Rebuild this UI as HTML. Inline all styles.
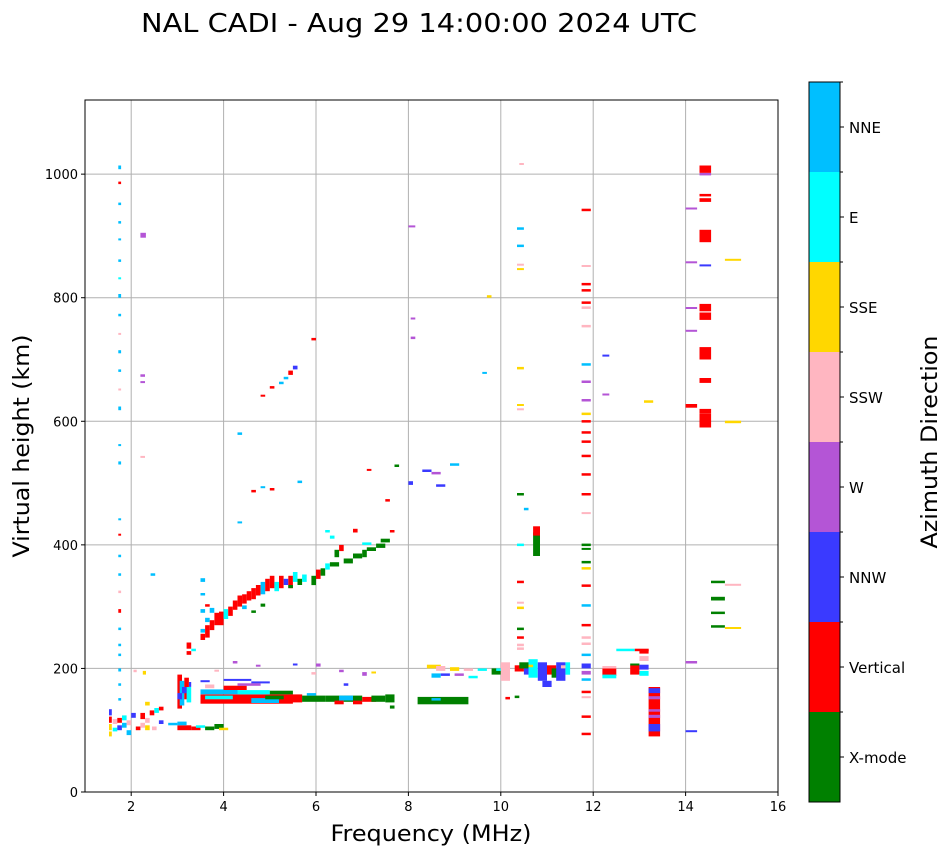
<!DOCTYPE html>
<html><head><meta charset="utf-8">
<style>
html,body{margin:0;padding:0;background:#fff;}
body{width:951px;height:856px;overflow:hidden;font-family:"DejaVu Sans","Liberation Sans",sans-serif;}
</style></head>
<body>
<svg id="chart" width="951" height="856" xmlns="http://www.w3.org/2000/svg" font-family="DejaVu Sans, Liberation Sans, sans-serif">
<text x="419" y="32" font-size="26" text-anchor="middle" textLength="556" lengthAdjust="spacingAndGlyphs">NAL CADI - Aug 29 14:00:00 2024 UTC</text>
<g id="grid"></g>
<g id="marks"></g>
<rect x="85" y="100" width="693" height="692" fill="none" stroke="#000" stroke-width="1"/>
<g id="axes"></g>
<text x="431" y="841" font-size="22" text-anchor="middle" textLength="201" lengthAdjust="spacingAndGlyphs">Frequency (MHz)</text>
<text transform="translate(29,446) rotate(-90)" font-size="22" text-anchor="middle" textLength="223" lengthAdjust="spacingAndGlyphs">Virtual height (km)</text>
<g id="cbar"></g>
<text transform="translate(937,442) rotate(-90)" font-size="22" text-anchor="middle" textLength="213" lengthAdjust="spacingAndGlyphs">Azimuth Direction</text>
</svg>
<script>
const directions = ["X-mode","Vertical","NNW","W","SSW","SSE","E","NNE"];
const dirColors = ["#008000","#ff0000","#3a3aff","#b455d6","#ffb6c1","#ffd700","#00ffff","#00bfff"];
const xTicks = [2,4,6,8,10,12,14,16];
const yTicks = [0,200,400,600,800,1000];
// echoes: [freqStart, freqEnd, heightLow, heightHigh, directionIndex]
const echoes = [
[1.72,1.78,1008,1014,7],[1.72,1.78,984,988,1],[1.72,1.78,950,954,7],[1.72,1.78,920,924,7],[1.72,1.78,893,896,7],[1.72,1.78,858,862,7],[1.72,1.78,830,833,6],[1.72,1.78,800,806,7],[1.72,1.78,770,774,7],[1.72,1.78,740,743,4],[1.72,1.78,710,715,7],[1.72,1.78,680,684,7],[1.72,1.78,650,653,4],[1.72,1.78,618,624,7],[1.72,1.78,560,563,7],[1.72,1.78,530,535,7],[1.72,1.78,440,443,7],[1.72,1.78,415,418,1],[1.72,1.78,380,384,7],[1.72,1.78,350,354,7],[1.72,1.78,322,326,4],[1.72,1.78,290,296,1],[1.72,1.78,262,266,7],[1.72,1.78,236,240,7],[1.72,1.78,220,224,7],[1.72,1.78,195,200,7],[1.72,1.78,172,176,7],[1.72,1.78,148,152,7],
[1.52,1.58,90,98,5],[1.52,1.58,100,110,5],[1.52,1.58,112,122,1],[1.52,1.58,124,134,2],[1.6,1.7,98,104,6],[1.6,1.7,110,118,4],[1.7,1.8,100,108,2],[1.7,1.8,112,120,1],[1.8,1.9,104,112,7],[1.8,1.9,116,124,6],[1.9,2.0,92,100,7],[1.9,2.0,108,116,4],[2.0,2.1,120,128,2],[2.05,2.12,194,198,4],[2.1,2.2,100,106,1],[2.2,2.3,104,112,4],[2.2,2.3,118,128,1],[2.3,2.4,100,108,5],[2.3,2.4,112,120,4],[2.3,2.4,140,146,5],[2.4,2.5,124,132,1],[2.45,2.55,100,106,4],[2.5,2.6,128,136,6],[2.6,2.7,132,138,1],[2.6,2.7,110,116,2],[2.25,2.32,190,196,5],
[2.2,2.32,897,905,3],[2.2,2.3,672,676,3],[2.2,2.3,662,665,3],[2.2,2.3,541,544,4],[2.42,2.52,350,354,7],
[3.0,3.1,135,190,1],[3.05,3.15,140,180,7],[3.15,3.25,150,185,1],[3.2,3.3,145,170,6],[3.1,3.2,160,170,2],[3.0,3.1,150,160,2],[3.25,3.3,170,178,2],[3.0,3.3,100,108,1],[3.0,3.2,108,114,7],[3.3,3.5,100,106,1],[3.4,3.6,104,108,6],[3.6,3.8,100,106,0],[3.8,4.0,102,110,0],[3.9,4.1,100,104,5],[2.8,3.0,108,112,7],
[3.5,5.5,143,158,1],[3.5,4.3,158,166,7],[3.6,4.2,150,156,6],[4.3,5.0,158,165,6],[4.0,4.5,165,172,1],[4.6,5.2,144,152,7],[4.0,4.6,180,183,2],[4.6,5.0,176,179,2],[4.3,4.8,172,176,3],[3.6,3.8,168,174,4],[5.0,5.5,158,164,0],[4.9,5.3,150,156,0],[5.4,5.7,145,158,1],[3.5,3.7,178,181,2],[3.8,3.9,195,198,4],[4.2,4.3,208,212,3],[4.7,4.8,203,206,3],[5.5,5.6,205,208,2],[6.0,6.1,203,208,3],[5.9,6.0,190,194,4],
[5.7,6.2,146,156,0],[5.8,6.0,156,160,7],[6.2,6.6,146,156,0],[6.4,6.6,142,148,1],[6.6,7.0,146,156,0],[6.5,6.8,148,156,7],[7.0,7.3,146,154,1],[7.2,7.5,146,156,0],[7.5,7.7,145,158,0],[6.8,7.0,142,148,1],[7.6,7.7,135,140,0],[6.5,6.6,194,198,3],[6.6,6.7,172,176,2],[7.0,7.1,188,194,3],[7.2,7.3,192,195,5],
[3.2,3.3,222,228,1],[3.2,3.3,232,242,1],[3.3,3.4,228,232,6],[3.5,3.6,246,256,1],[3.5,3.6,258,264,7],[3.6,3.7,250,270,1],[3.7,3.8,262,278,1],[3.6,3.7,275,282,7],[3.5,3.6,290,296,7],[3.5,3.6,318,322,7],[3.5,3.6,340,346,7],[3.6,3.7,300,304,1],[3.7,3.8,290,298,7],[3.8,3.9,270,290,1],[3.9,4.0,270,292,1],[4.0,4.1,280,296,6],[4.1,4.2,285,300,1],[4.2,4.3,295,310,1],[4.3,4.4,300,318,1],[4.4,4.5,305,320,1],[4.4,4.5,296,302,7],[4.5,4.6,310,325,1],[4.6,4.7,312,330,1],[4.7,4.8,318,335,1],[4.8,4.9,320,340,7],[4.9,5.0,325,345,1],[5.0,5.1,330,350,1],[5.1,5.2,325,340,6],[5.2,5.3,330,350,1],[5.3,5.4,335,345,2],[5.4,5.5,330,350,1],[5.5,5.6,340,356,6],[5.6,5.7,335,345,0],[5.7,5.8,340,352,6],[5.9,6.0,335,350,0],[6.0,6.1,345,360,1],[6.1,6.2,350,362,0],[6.2,6.3,360,370,6],[6.3,6.5,365,372,0],[6.4,6.5,380,392,0],[6.5,6.6,390,400,1],[6.6,6.8,370,378,0],[6.8,7.0,378,386,0],[7.0,7.1,380,392,0],[7.1,7.3,390,396,0],[7.3,7.5,395,402,0],[7.4,7.6,404,410,0],[7.6,7.7,420,424,1],[7.0,7.2,400,404,6],[6.2,6.3,420,424,6],[6.3,6.4,410,415,6],[5.4,5.5,330,335,0],[4.6,4.7,290,294,0],[4.8,4.9,300,305,0],[4.3,4.4,435,438,7],[4.3,4.4,578,582,7],[4.6,4.7,485,489,1],[4.8,4.9,492,495,7],[5.0,5.1,488,492,1],[5.6,5.7,500,504,7],[7.5,7.6,470,474,1],[7.7,7.8,526,530,0],[7.1,7.2,520,523,1],[6.8,6.9,420,426,1],
[4.8,4.9,640,643,1],[5.0,5.1,653,657,1],[5.2,5.3,660,664,7],[5.3,5.4,668,672,7],[5.4,5.5,675,682,1],[5.5,5.6,684,690,2],[5.9,6.0,731,735,1],
[8.0,8.1,497,503,2],[8.3,8.5,518,522,2],[8.5,8.7,514,518,3],[8.6,8.8,494,498,2],[8.9,9.1,528,532,7],[8.0,8.15,914,917,3],[8.05,8.15,765,768,3],[8.05,8.15,733,737,3],[9.7,9.8,800,804,5],[9.6,9.7,677,680,7],
[8.2,9.3,142,154,0],[8.5,8.7,148,152,7],[8.4,8.7,200,206,5],[8.6,8.8,196,204,4],[8.7,8.9,188,192,2],[8.9,9.1,196,202,5],[9.0,9.2,188,192,3],[9.2,9.4,196,200,4],[8.5,8.7,185,192,7],[9.5,9.7,196,200,6],[9.3,9.5,184,188,6],
[9.8,10.0,190,200,0],[9.9,10.1,196,200,6],[10.0,10.2,180,210,4],[10.3,10.5,195,205,1],[10.4,10.6,200,210,0],[10.5,10.7,190,200,2],[10.6,10.8,185,215,6],[10.8,11.0,180,210,2],[10.9,11.1,170,180,2],[11.0,11.2,190,205,1],[11.1,11.3,185,200,0],[11.2,11.4,180,210,2],[11.3,11.4,200,205,4],[11.4,11.5,190,210,6],[10.1,10.2,150,154,1],[10.3,10.4,152,156,0],[10.6,10.7,202,206,5],
[10.7,10.85,382,420,0],[10.7,10.85,415,430,1],[10.35,10.5,480,484,0],[10.35,10.5,398,402,6],[10.35,10.5,338,342,1],[10.35,10.5,305,308,4],[10.35,10.5,296,300,5],[10.35,10.5,262,266,0],[10.35,10.5,248,252,1],[10.35,10.5,230,234,4],[10.35,10.5,236,240,4],[10.35,10.5,625,628,5],[10.35,10.5,618,621,4],[10.35,10.5,684,688,5],[10.35,10.5,845,848,5],[10.35,10.5,852,855,4],[10.35,10.5,882,886,7],[10.35,10.5,910,914,7],[10.4,10.5,1015,1018,4],[10.5,10.6,456,460,7],
[11.75,11.95,940,944,1],[11.75,11.95,850,853,4],[11.75,11.95,820,824,1],[11.75,11.95,810,814,1],[11.75,11.95,790,794,1],[11.75,11.95,782,786,4],[11.75,11.95,752,756,4],[11.75,11.95,690,694,7],[11.75,11.95,662,666,3],[11.75,11.95,632,636,3],[11.75,11.95,610,614,5],[11.75,11.95,598,602,1],[11.75,11.95,580,584,1],[11.75,11.95,565,569,1],[11.75,11.95,542,546,1],[11.75,11.95,512,516,1],[11.75,11.95,480,484,1],[11.75,11.95,450,453,4],[11.75,11.95,398,402,0],[11.75,11.95,392,395,0],[11.75,11.95,370,374,0],[11.75,11.95,360,364,5],[11.75,11.95,332,336,1],[11.75,11.95,300,304,7],[11.75,11.95,268,272,1],[11.75,11.95,248,252,4],[11.75,11.95,238,242,4],[11.75,11.95,220,224,7],[11.75,11.95,200,208,2],[11.75,11.95,190,196,3],[11.75,11.95,180,184,7],[11.75,11.95,160,164,1],[11.75,11.95,152,155,4],[11.75,11.95,120,124,1],[11.75,11.95,92,96,1],[12.2,12.35,705,708,2],[12.2,12.35,642,645,3],
[12.2,12.5,188,200,1],[12.2,12.5,200,204,4],[12.2,12.5,184,190,6],[12.5,12.9,228,232,6],[12.9,13.2,228,232,1],[13.0,13.2,224,230,1],[13.0,13.2,212,220,4],[12.8,13.0,190,205,1],[12.8,13.0,205,208,0],[13.0,13.2,198,206,2],[13.0,13.2,188,196,6],[13.1,13.3,630,634,5],
[13.2,13.45,90,170,1],[13.2,13.45,160,168,2],[13.2,13.45,150,155,3],[13.2,13.45,120,125,3],[13.2,13.45,98,110,2],[13.2,13.45,130,134,3],
[14.0,14.25,943,946,3],[14.0,14.25,856,859,3],[14.0,14.25,782,785,3],[14.0,14.25,745,748,3],[14.0,14.25,622,628,1],[14.0,14.25,208,212,3],[14.0,14.25,98,100,2],
[14.3,14.55,1002,1014,1],[14.3,14.55,998,1002,3],[14.3,14.55,964,968,1],[14.3,14.55,955,961,1],[14.3,14.55,890,910,1],[14.3,14.55,852,854,2],[14.3,14.55,778,790,1],[14.3,14.55,764,776,1],[14.3,14.55,700,720,1],[14.3,14.55,662,670,1],[14.3,14.55,590,612,1],[14.3,14.55,612,620,1],
[14.55,14.85,338,342,0],[14.55,14.85,310,316,0],[14.55,14.85,288,292,0],[14.55,14.85,266,270,0],[14.85,15.2,334,337,4],[14.85,15.2,264,267,5],[14.85,15.2,597,601,5],[14.85,15.2,860,863,5]
];
const NS="http://www.w3.org/2000/svg";
const X0=85,X1=778,Y0=792,Y1=100,FMIN=1,FMAX=16,HMIN=0,HMAX=1120;
function xS(f){return X0+(f-FMIN)/(FMAX-FMIN)*(X1-X0);}
function yS(h){return Y0-(h-HMIN)/(HMAX-HMIN)*(Y0-Y1);}
function mk(tag,attrs,parent){const e=document.createElementNS(NS,tag);for(const k in attrs)e.setAttribute(k,attrs[k]);parent.appendChild(e);return e;}
const grid=document.getElementById('grid'),axes=document.getElementById('axes'),marks=document.getElementById('marks'),cbar=document.getElementById('cbar');
xTicks.forEach(t=>{const x=xS(t);
 const g=mk('line',{x1:x,x2:x,y1:Y1,y2:Y0,stroke:'#b0b0b0','stroke-width':1},grid);
 
 const tk=mk('line',{x1:x,x2:x,y1:Y0,y2:Y0+4,stroke:'#000'},axes);
 
 const tx=mk('text',{x:x,y:Y0+19,'font-size':13,'text-anchor':'middle'},axes);tx.textContent=t;
 });
yTicks.forEach(t=>{const y=yS(t);
 const g=mk('line',{x1:X0,x2:X1,y1:y,y2:y,stroke:'#b0b0b0','stroke-width':1},grid);
 
 const tk=mk('line',{x1:X0-4,x2:X0,y1:y,y2:y,stroke:'#000'},axes);
 
 const tx=mk('text',{x:X0-7,y:y+5,'font-size':13,'text-anchor':'end'},axes);tx.textContent=t;
 });
echoes.forEach(e=>{const x=xS(e[0]),w=Math.max(xS(e[1])-x,2),y=yS(e[3]),h=Math.max(yS(e[2])-y,2);
 const r=mk('rect',{x:x.toFixed(1),y:y.toFixed(1),width:w.toFixed(1),height:h.toFixed(1),fill:dirColors[e[4]]},marks);
 });
const CB0=802,CB1=82,cbx=809,cbw=31,seg=(CB0-CB1)/directions.length;
directions.forEach((d,i)=>{const y=CB0-(i+1)*seg;
 const r=mk('rect',{x:cbx,y:y,width:cbw,height:seg,fill:dirColors[i]},cbar);
 
 const tk=mk('line',{x1:cbx+cbw,x2:cbx+cbw+4,y1:y+seg/2,y2:y+seg/2,stroke:'#000'},cbar);
 
 const tk2=mk('line',{x1:cbx+cbw,x2:cbx+cbw+3,y1:y,y2:y,stroke:'#000'},cbar);
 
 const t=mk('text',{x:cbx+cbw+9,y:y+seg/2+6,'font-size':15},cbar);t.textContent=d;
 });
const fr=mk('rect',{x:cbx,y:CB1,width:cbw,height:CB0-CB1,fill:'none',stroke:'#000'},cbar);

</script>
</body></html>
